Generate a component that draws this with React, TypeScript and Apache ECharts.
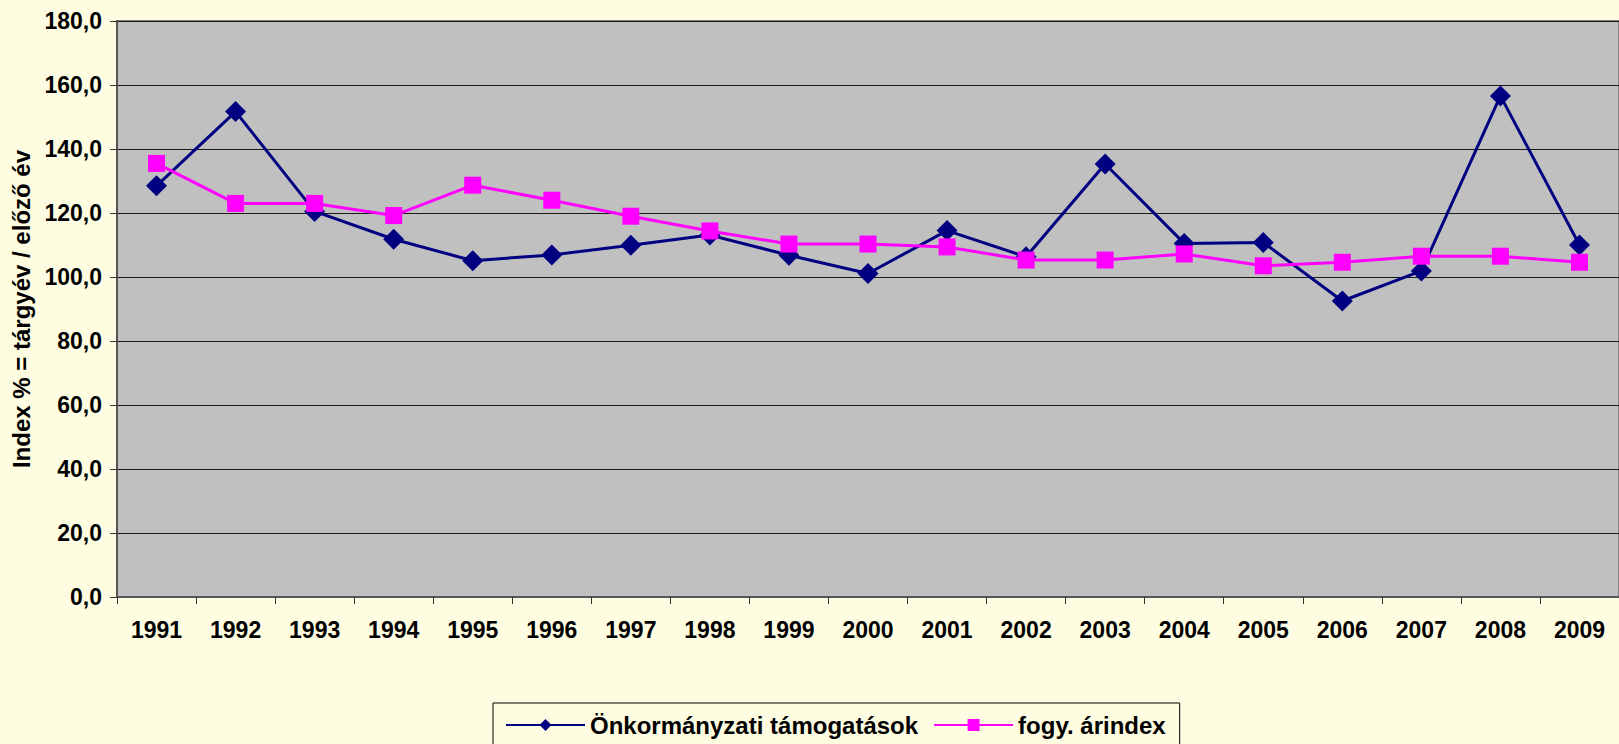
import React, { useEffect, useRef } from "react";
import * as echarts from "echarts";

const years = ["1991", "1992", "1993", "1994", "1995", "1996", "1997", "1998", "1999", "2000", "2001", "2002", "2003", "2004", "2005", "2006", "2007", "2008", "2009"];
const onkormanyzati = [128.5, 151.7, 120.5, 111.8, 105.1, 106.9, 109.9, 113.1, 106.8, 101.1, 114.5, 106.3, 135.3, 110.5, 110.8, 92.5, 101.9, 156.6, 110.0];
const fogyArindex = [135.5, 123.0, 123.0, 119.2, 128.7, 124.0, 119.0, 114.4, 110.3, 110.3, 109.4, 105.3, 105.3, 107.2, 103.5, 104.6, 106.5, 106.5, 104.6];
const seriesNames = ["Önkormányzati támogatások", "fogy. árindex"];
const yAxisTitle = "Index % = tárgyév / előző év";

const FONT = "'Liberation Sans', Arial, sans-serif";

export default function App() {
  const ref = useRef<HTMLDivElement>(null);
  useEffect(() => {
    if (!ref.current) return;
    const chart = echarts.init(ref.current, null, { renderer: "svg" });
    chart.setOption({
      animation: false,
      backgroundColor: "#FFFDE1",
      textStyle: { fontFamily: FONT },
      grid: {
        left: 117,
        top: 21,
        right: -9,
        bottom: 147,
        show: true,
        backgroundColor: "#C0C0C0",
        borderColor: "#808080",
        borderWidth: 2,
      },
      legend: {
        left: 493,
        top: 703,
        orient: "horizontal",
        padding: [10, 14, 14, 12],
        itemGap: 15,
        itemWidth: 79,
        itemHeight: 15,
        borderColor: "#000000",
        borderWidth: 1,
        backgroundColor: "#FFFDE1",
        textStyle: { fontFamily: FONT, fontSize: 24, fontWeight: "bold", color: "#000000" },
        data: seriesNames,
      },
      xAxis: {
        type: "category",
        data: years,
        boundaryGap: true,
        axisLine: { show: true, lineStyle: { color: "#555555", width: 2 } },
        axisTick: { show: true, length: 7, lineStyle: { color: "#333333", width: 1 } },
        axisLabel: { margin: 21, fontFamily: FONT, fontSize: 23, fontWeight: "bold", color: "#000000" },
        splitLine: { show: false },
      },
      yAxis: {
        type: "value",
        min: 0,
        max: 180,
        interval: 20,
        name: yAxisTitle,
        nameLocation: "middle",
        nameGap: 76,
        nameRotate: 90,
        nameTextStyle: { fontFamily: FONT, fontSize: 24, fontWeight: "bold", color: "#000000" },
        axisLine: { show: true, lineStyle: { color: "#555555", width: 2 } },
        axisTick: { show: true, length: 7, lineStyle: { color: "#333333", width: 1 } },
        axisLabel: {
          margin: 15,
          fontFamily: FONT,
          fontSize: 23,
          fontWeight: "bold",
          color: "#000000",
          formatter: (v: number) => v.toFixed(1).replace(".", ","),
        },
        splitLine: { show: true, lineStyle: { color: "#1a1a1a", width: 1 } },
      },
      series: [
        {
          name: seriesNames[0],
          type: "line",
          data: onkormanyzati,
          symbol: "diamond",
          symbolSize: 21,
          lineStyle: { color: "#000080", width: 3 },
          itemStyle: { color: "#000080" },
          z: 2,
        },
        {
          name: seriesNames[1],
          type: "line",
          data: fogyArindex,
          symbol: "rect",
          symbolSize: 17,
          lineStyle: { color: "#FF00FF", width: 3 },
          itemStyle: { color: "#FF00FF" },
          z: 3,
        },
      ],
    });
    return () => chart.dispose();
  }, []);
  return (
    <div
      ref={ref}
      style={{ position: "absolute", left: 0, top: 0, width: 1619, height: 744, overflow: "hidden" }}
    />
  );
}
